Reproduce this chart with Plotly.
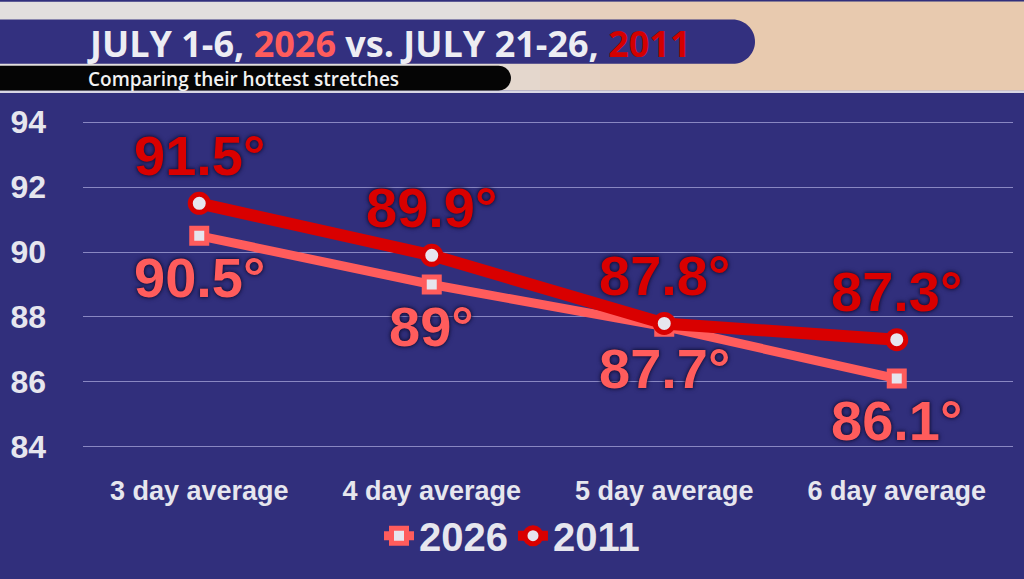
import plotly.graph_objects as go

categories = ["3 day average", "4 day average", "5 day average", "6 day average"]
temps_2026 = [90.5, 89.0, 87.7, 86.1]
temps_2011 = [91.5, 89.9, 87.8, 87.3]
labels_2026 = ["90.5°", "89°", "87.7°", "86.1°"]
labels_2011 = ["91.5°", "89.9°", "87.8°", "87.3°"]
y_ticks = [84, 86, 88, 90, 92, 94]

navy = "#312F7C"
salmon = "#FF5C5C"
red = "#D90000"
light = "#E6E6EE"
glow = "0px 0px 5px #15123A, 0px 0px 3px #15123A"

# plot area in pixels (84 sits at y=452, 94 at y=122; pad the range a bit so the
# edge gridlines are kept)
W, H = 1024, 579
L, R = 83, 11
y_lo, y_hi = 83.9, 94.1
per_unit = 33.0
T = round(122 - (y_hi - 94) * per_unit)
B = round(H - 452 - (84 - y_lo) * per_unit)
PW, PH = W - L - R, H - T - B


def xp(px):
    return (px - L) / PW


def yp(py):
    return (H - B - py) / PH


def banner(x0, y0, x1, y1):
    r = (y1 - y0) / 2
    k = r * 0.55
    pts = [
        f"M {xp(x0)},{yp(y0)}",
        f"L {xp(x1 - r)},{yp(y0)}",
        f"C {xp(x1 - r + k)},{yp(y0)} {xp(x1)},{yp(y0 + r - k)} {xp(x1)},{yp(y0 + r)}",
        f"C {xp(x1)},{yp(y1 - r + k)} {xp(x1 - r + k)},{yp(y1)} {xp(x1 - r)},{yp(y1)}",
        f"L {xp(x0)},{yp(y1)} Z",
    ]
    return " ".join(pts)


fig = go.Figure()

fig.add_trace(go.Scatter(
    x=categories, y=temps_2026, name="2026", mode="lines+markers",
    line=dict(color=salmon, width=9),
    marker=dict(symbol="square", size=15, color=light, line=dict(color=salmon, width=5)),
    cliponaxis=False,
))
fig.add_trace(go.Scatter(
    x=categories, y=temps_2011, name="2011", mode="lines+markers",
    line=dict(color=red, width=12),
    marker=dict(symbol="circle", size=18, color=light, line=dict(color=red, width=5)),
    cliponaxis=False,
))

shapes = [
    # header background
    dict(type="rect", xref="paper", yref="paper", x0=xp(0), x1=xp(W), y0=yp(0), y1=yp(90),
         fillcolor="#E2DFDE", line=dict(width=0)),
]
for i in range(10):
    shapes.append(dict(type="rect", xref="paper", yref="paper", x0=xp(480 + i * 30), x1=xp(W),
                       y0=yp(0), y1=yp(90), fillcolor="rgba(236,196,168,0.16)", line=dict(width=0)))
shapes += [
    dict(type="rect", xref="paper", yref="paper", x0=xp(0), x1=xp(W), y0=yp(90), y1=yp(92.5),
         fillcolor="#D8D6E4", line=dict(width=0)),
    dict(type="path", xref="paper", yref="paper", path=banner(0, 18, 755, 63),
         fillcolor="#33307F", line=dict(width=0)),
    dict(type="path", xref="paper", yref="paper", path=banner(0, 65, 511, 90),
         fillcolor="#050505", line=dict(width=0)),
]

annotations = [
    dict(xref="paper", yref="paper", x=xp(85), y=yp(42), xanchor="left", yanchor="middle",
         showarrow=False,
         text=f"JULY 1-6, <span style='color:{salmon}'>2026</span> vs. JULY 21-26, "
              f"<span style='color:#D40000'>2011</span>",
         font=dict(family="Open Sans", size=36, weight="bold", color="#EDEDF3")),
    dict(xref="paper", yref="paper", x=xp(86), y=yp(78), xanchor="left", yanchor="middle",
         showarrow=False, text="Comparing their hottest stretches",
         font=dict(family="Open Sans", size=19, weight=600, color="#F2F2F2")),
]

# value labels, placed on the data through the axes
for cat, val, lab in zip(categories, temps_2011, labels_2011):
    annotations.append(dict(x=cat, y=val, text=lab, showarrow=False, yshift=48,
                            font=dict(family="Liberation Sans", size=56, weight="bold",
                                      color=red, shadow=glow)))
for cat, val, lab in zip(categories, temps_2026, labels_2026):
    annotations.append(dict(x=cat, y=val, text=lab, showarrow=False, yshift=-42,
                            font=dict(family="Liberation Sans", size=56, weight="bold",
                                      color=salmon, shadow=glow)))

fig.update_layout(
    width=W, height=H,
    margin=dict(l=L, r=R, t=T, b=B),
    paper_bgcolor=navy, plot_bgcolor=navy,
    shapes=shapes, annotations=annotations,
    showlegend=True,
    legend=dict(orientation="h", x=xp(512), y=yp(542), xanchor="center", yanchor="middle",
                font=dict(family="Liberation Sans", size=40, weight="bold", color=light),
                itemwidth=30, bgcolor="rgba(0,0,0,0)"),
)
fig.update_xaxes(
    type="category", range=[-0.5, 3.5], showgrid=False, zeroline=False, showline=False,
    tickfont=dict(family="Liberation Sans", size=27, weight="bold", color=light),
    ticklabelstandoff=19 - (B - 127),
)
fig.update_yaxes(
    range=[y_lo, y_hi], tickvals=y_ticks, showgrid=True, gridcolor="#8987C2", gridwidth=1,
    zeroline=False, showline=False,
    tickfont=dict(family="Liberation Sans", size=32, weight="bold", color=light),
    ticklabelstandoff=36,
)

fig.write_html("out.html", config={"displayModeBar": False},
               post_script="document.body.style.margin='0';")
